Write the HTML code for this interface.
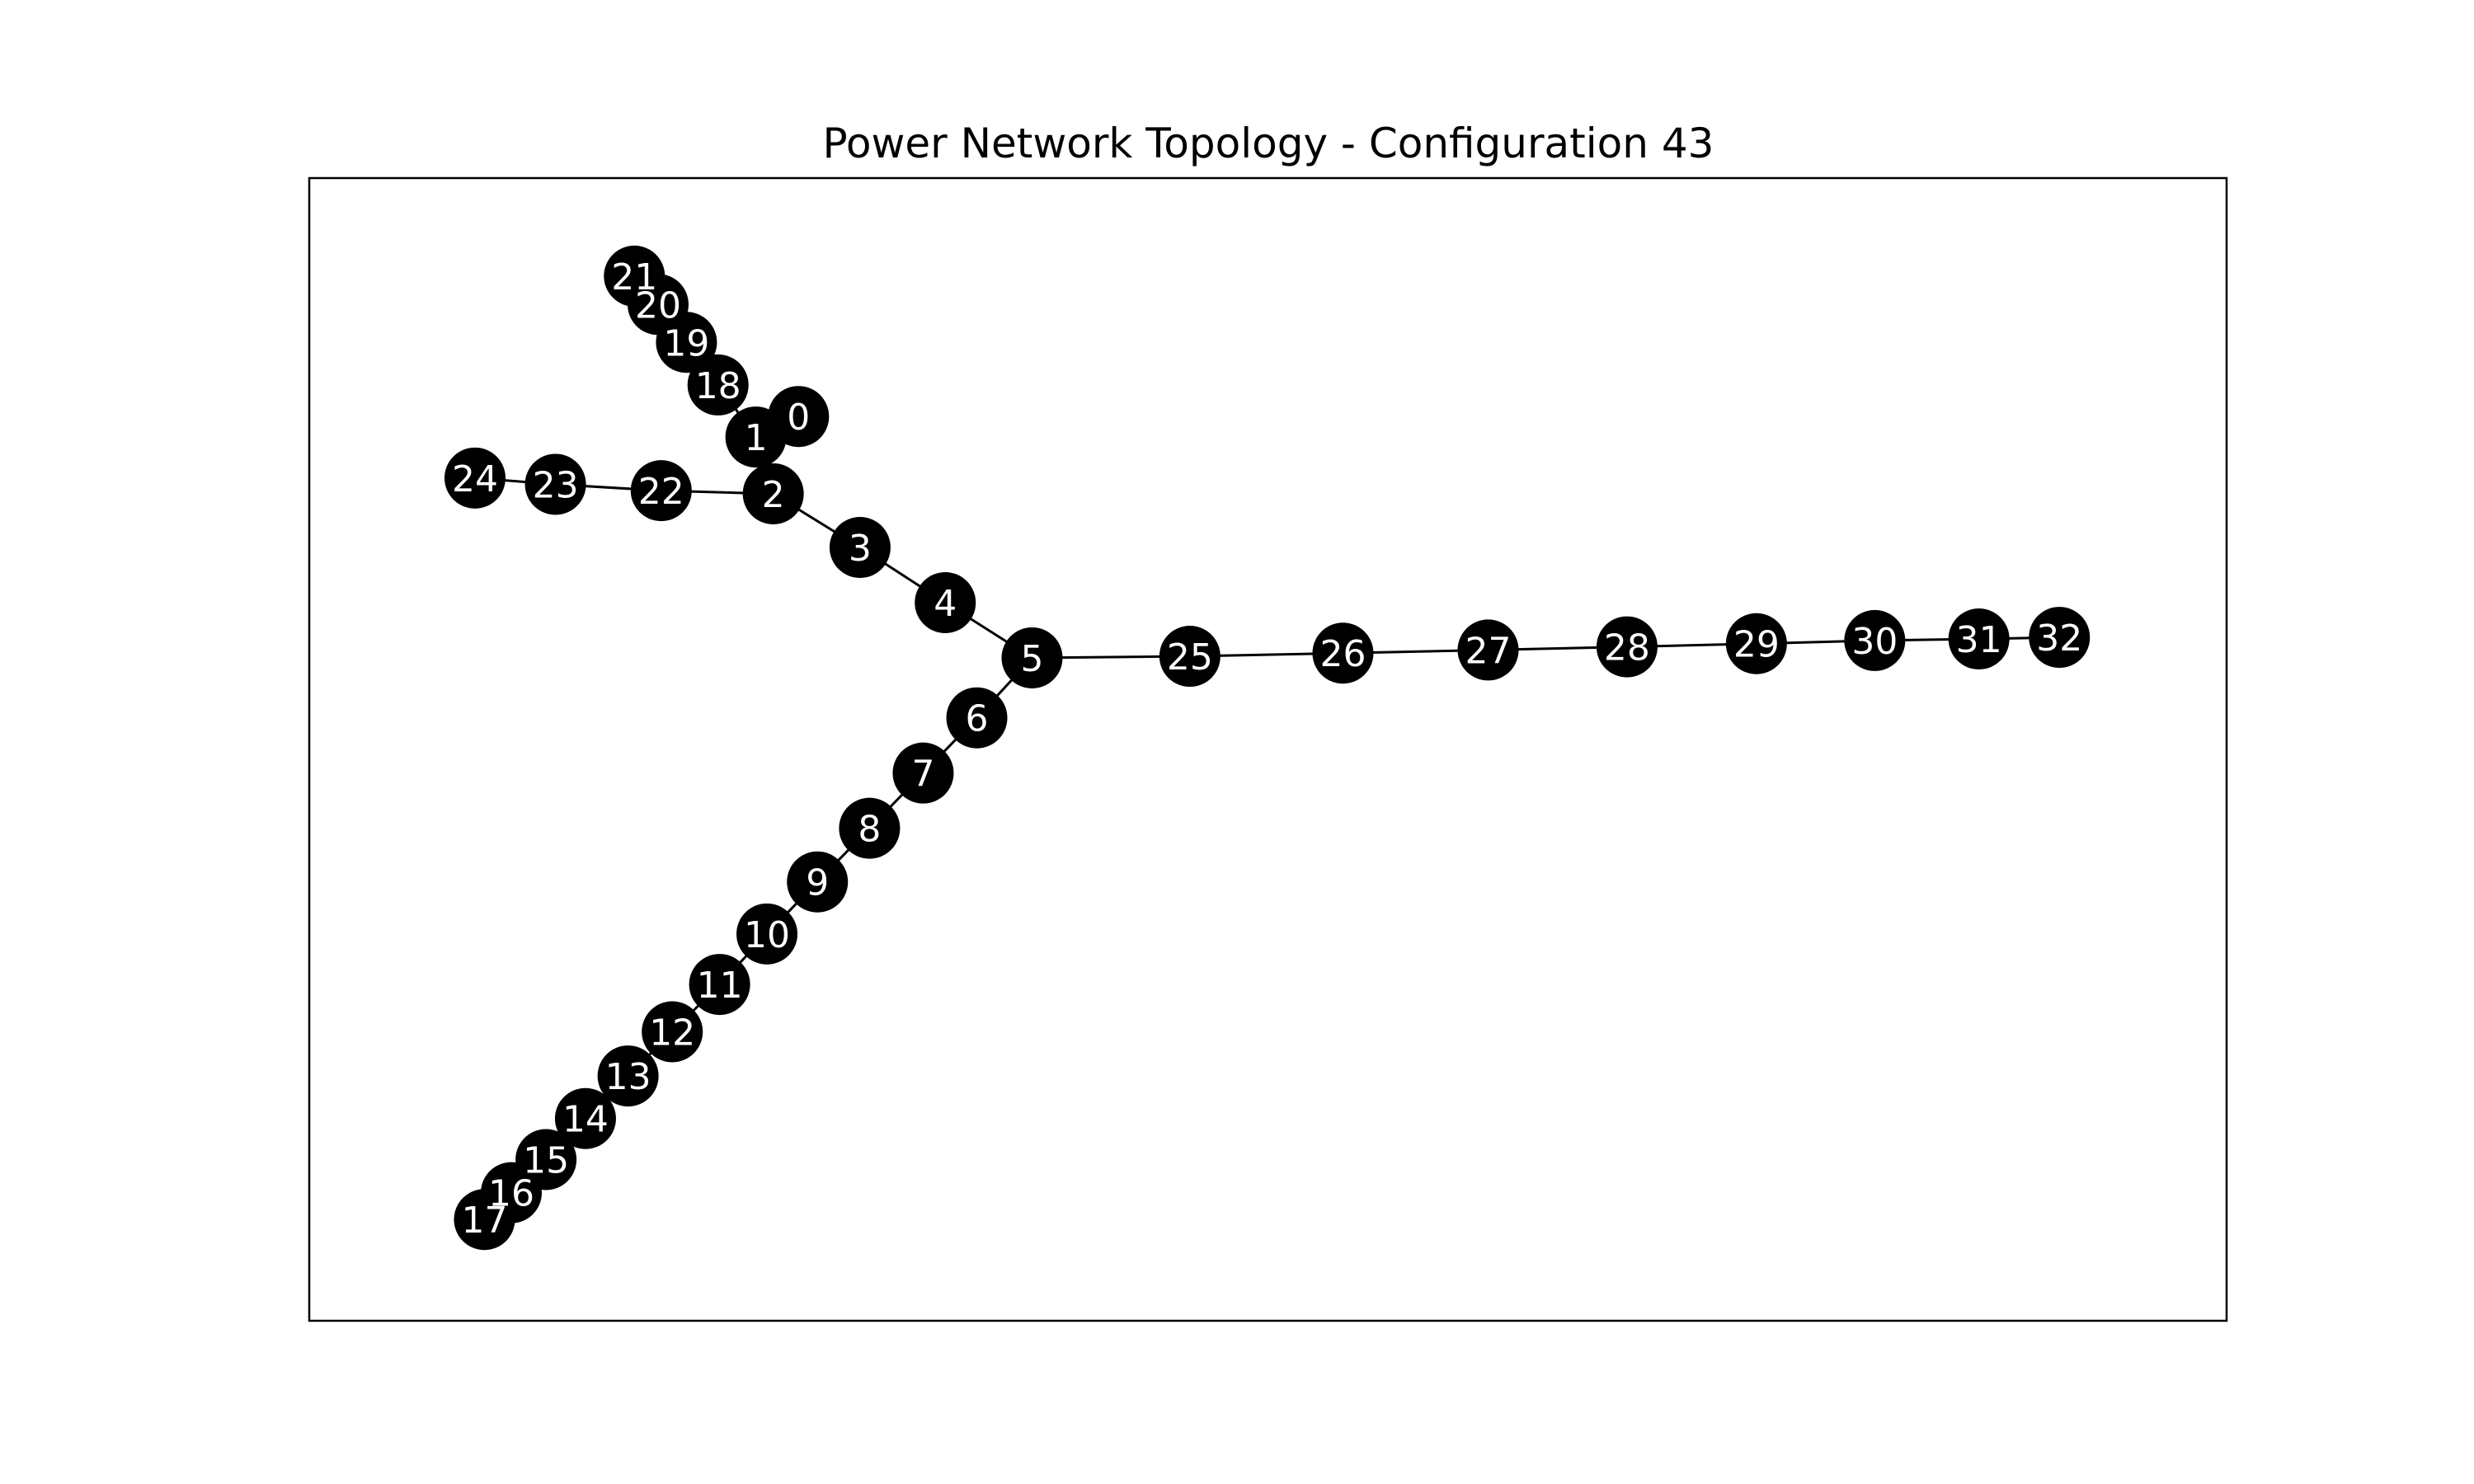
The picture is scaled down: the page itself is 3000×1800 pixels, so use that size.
<!DOCTYPE html>
<html><head><meta charset="utf-8"><style>html,body{margin:0;padding:0;background:#fff}svg{display:block}</style></head>
<body>
<svg id="chart" width="3000" height="1800" viewBox="0 0 3000 1800" xmlns="http://www.w3.org/2000/svg" font-family="DejaVu Sans, Liberation Sans, sans-serif">
<rect width="3000" height="1800" fill="#fff"/>
<text x="1538" y="191" font-size="50" text-anchor="middle" fill="#000">Power Network Topology - Configuration 43</text>
<rect x="375" y="216" width="2325" height="1386" fill="none" stroke="#000" stroke-width="2.5"/>
<g id="edges"></g><g id="nodes"></g>
</svg>
<script>
const nodeIds = [0,1,2,3,4,5,6,7,8,9,10,11,12,13,14,15,16,17,18,19,20,21,22,23,24,25,26,27,28,29,30,31,32];
const nodeX = [506,479,490,545,599,654,619,585,551,518,486,456,426,398,371,346,324,307,455,435,417,402,419,352,301,754,851,943,1031,1113,1188,1254,1305];
const nodeY = [264,277,313,347,382,417,455,490,525,559,592,624,654,682,709,735,756,773,244,217,193,175,311,307,303,416,414,412,410,408,406,405,404];
const edgeFrom = [0,1,2,3,4,5,6,7,8,9,10,11,12,13,14,15,16,1,18,19,20,2,22,23,5,25,26,27,28,29,30,31];
const edgeTo   = [1,2,3,4,5,6,7,8,9,10,11,12,13,14,15,16,17,18,19,20,21,22,23,24,25,26,27,28,29,30,31,32];
const S = 1.9136;
function sx(v){return v*S;}
function sy(v){return v*S;}
const NS='http://www.w3.org/2000/svg';
const eg=document.getElementById('edges'), ng=document.getElementById('nodes');
for(let i=0;i<edgeFrom.length;i++){
  const a=edgeFrom[i], b=edgeTo[i];
  const l=document.createElementNS(NS,'line');
  l.setAttribute('x1',sx(nodeX[a]));l.setAttribute('y1',sy(nodeY[a]));
  l.setAttribute('x2',sx(nodeX[b]));l.setAttribute('y2',sy(nodeY[b]));
  l.setAttribute('stroke','#000');l.setAttribute('stroke-width','3');
  
  
  eg.appendChild(l);
}
for(let i=0;i<nodeIds.length;i++){
  const c=document.createElementNS(NS,'circle');
  c.setAttribute('cx',sx(nodeX[i]));c.setAttribute('cy',sy(nodeY[i]));c.setAttribute('r','37');
  c.setAttribute('fill','#000');
  
  
  ng.appendChild(c);
}
for(let i=0;i<nodeIds.length;i++){
  const t=document.createElementNS(NS,'text');
  t.setAttribute('x',sx(nodeX[i]));t.setAttribute('y',sy(nodeY[i])+16);
  t.setAttribute('text-anchor','middle');t.setAttribute('font-size','44');t.setAttribute('fill','#fff');
  t.textContent=nodeIds[i];
  
  
  ng.appendChild(t);
}
</script>
</body></html>
